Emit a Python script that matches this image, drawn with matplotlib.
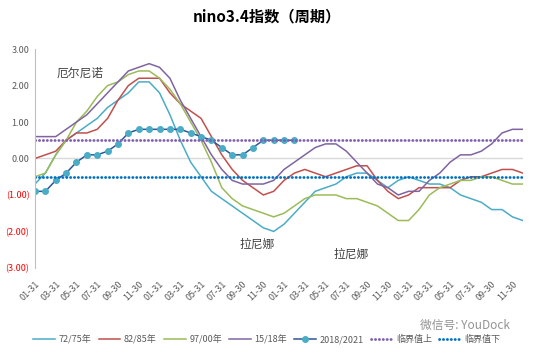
import numpy as np
import matplotlib
matplotlib.use("Agg")
import matplotlib.pyplot as plt

plt.rcParams['font.family'] = ['Noto Sans CJK SC', 'DejaVu Sans']

# monthly values, 4 years per cycle
months = list(range(48))
tick_labels = ["01-31", "03-31", "05-31", "07-31", "09-30", "11-30"] * 4

s7275 = [-0.7, -0.4, 0.1, 0.5, 0.7, 0.9, 1.1, 1.4, 1.6, 1.8, 2.1, 2.1,
         1.8, 1.2, 0.5, -0.1, -0.5, -0.9, -1.1, -1.3, -1.5, -1.7, -1.9, -2.0,
         -1.8, -1.5, -1.2, -0.9, -0.8, -0.7, -0.5, -0.4, -0.4, -0.6, -0.8, -0.6,
         -0.5, -0.6, -0.7, -0.7, -0.8, -1.0, -1.1, -1.2, -1.4, -1.4, -1.6, -1.7]
s8285 = [0.0, 0.1, 0.2, 0.5, 0.7, 0.7, 0.8, 1.1, 1.6, 2.0, 2.2, 2.2,
         2.2, 1.8, 1.5, 1.3, 1.1, 0.6, 0.1, -0.3, -0.6, -0.8, -1.0, -0.9,
         -0.6, -0.4, -0.3, -0.4, -0.5, -0.4, -0.3, -0.2, -0.2, -0.6, -0.9, -1.1,
         -1.0, -0.8, -0.8, -0.8, -0.8, -0.6, -0.5, -0.5, -0.4, -0.3, -0.3, -0.4]
s9700 = [-0.5, -0.4, 0.1, 0.5, 1.0, 1.3, 1.7, 2.0, 2.1, 2.3, 2.4, 2.4,
         2.2, 1.9, 1.5, 1.0, 0.5, -0.1, -0.8, -1.1, -1.3, -1.4, -1.5, -1.6,
         -1.5, -1.3, -1.1, -1.0, -1.0, -1.0, -1.1, -1.1, -1.2, -1.3, -1.5, -1.7,
         -1.7, -1.4, -1.0, -0.8, -0.7, -0.6, -0.6, -0.5, -0.5, -0.6, -0.7, -0.7]
s1518 = [0.6, 0.6, 0.6, 0.8, 1.0, 1.2, 1.5, 1.8, 2.1, 2.4, 2.5, 2.6,
         2.5, 2.2, 1.6, 1.1, 0.6, 0.1, -0.3, -0.6, -0.7, -0.7, -0.7, -0.6,
         -0.3, -0.1, 0.1, 0.3, 0.4, 0.4, 0.2, -0.1, -0.4, -0.7, -0.8, -1.0,
         -0.9, -0.9, -0.6, -0.4, -0.1, 0.1, 0.1, 0.2, 0.4, 0.7, 0.8, 0.8]
s1821 = [-0.9, -0.9, -0.6, -0.4, -0.1, 0.1, 0.1, 0.2, 0.4, 0.7, 0.8, 0.8,
         0.8, 0.8, 0.8, 0.7, 0.6, 0.5, 0.3, 0.1, 0.1, 0.3, 0.5, 0.5,
         0.5, 0.5]
upper = 0.5
lower = -0.5

fig = plt.figure(figsize=(5.34, 3.53), dpi=100)
ax = fig.add_axes([0.0655, 0.241, 0.9135, 0.62])

lw = 1.1
ax.axhline(0, color='#d9d9d9', lw=1.0, zorder=1)
ax.plot(months, s7275, color='#4BACC6', lw=lw, label='72/75年')
ax.plot(months, s8285, color='#C0504D', lw=lw, label='82/85年')
ax.plot(months, s9700, color='#9BBB59', lw=lw, label='97/00年')
ax.plot(months, s1518, color='#8064A2', lw=lw, label='15/18年')
ax.plot(months[:len(s1821)], s1821, color='#2F5597', lw=lw, marker='o',
        ms=4, mfc='#4BACC6', mec='#4BACC6', label='2018/2021')
dots = (0, (0.1, 1.3))
ax.plot(months, [upper] * 48, color='#7F5FAF', lw=2.0, ls=dots,
        dash_capstyle='round', label='临界值上')
ax.plot(months, [lower] * 48, color='#0070C0', lw=2.0, ls=dots,
        dash_capstyle='round', label='临界值下')

ax.set_xlim(0, 47)
ax.set_ylim(-3, 3)
ax.set_xticks(months[::2])
ax.set_xticklabels(tick_labels, rotation=45, ha='right', rotation_mode='anchor',
                   fontsize=6.5, color='#595959')
yt = [3, 2, 1, 0, -1, -2, -3]
ax.set_yticks(yt)
ylabs = ax.set_yticklabels(['3.00', '2.00', '1.00', '0.00', '(1.00)', '(2.00)', '(3.00)'],
                           fontsize=6.5)
for v, t in zip(yt, ylabs):
    t.set_color('#FF0000' if v < 0 else '#595959')
ax.tick_params(axis='both', length=0, pad=4)
ax.tick_params(axis='x', pad=8)
for side in ['top', 'right', 'bottom']:
    ax.spines[side].set_visible(False)
ax.spines['left'].set_color('#bfbfbf')

ax.text(4.3, 2.33, '厄尔尼诺', fontsize=8.5, color='#404040', ha='center', va='center')
ax.text(21.4, -2.34, '拉尼娜', fontsize=8.5, color='#404040', ha='center', va='center')
ax.text(30.5, -2.61, '拉尼娜', fontsize=8.5, color='#404040', ha='center', va='center')

fig.text(0.5, 0.952, 'nino3.4指数（周期）', fontsize=11, fontweight='bold',
         ha='center', va='center')

fig.legend(loc='center', bbox_to_anchor=(0.5, 0.038), ncol=7, frameon=False,
           fontsize=6.5, handlelength=2.4, columnspacing=0.8, handletextpad=0.4,
           labelcolor='#595959')

fig.text(0.955, 0.078, '微信号: YouDock', fontsize=8.5, color='#808080',
         ha='right', va='center', alpha=0.85)

fig.savefig('out.png', dpi=100)
